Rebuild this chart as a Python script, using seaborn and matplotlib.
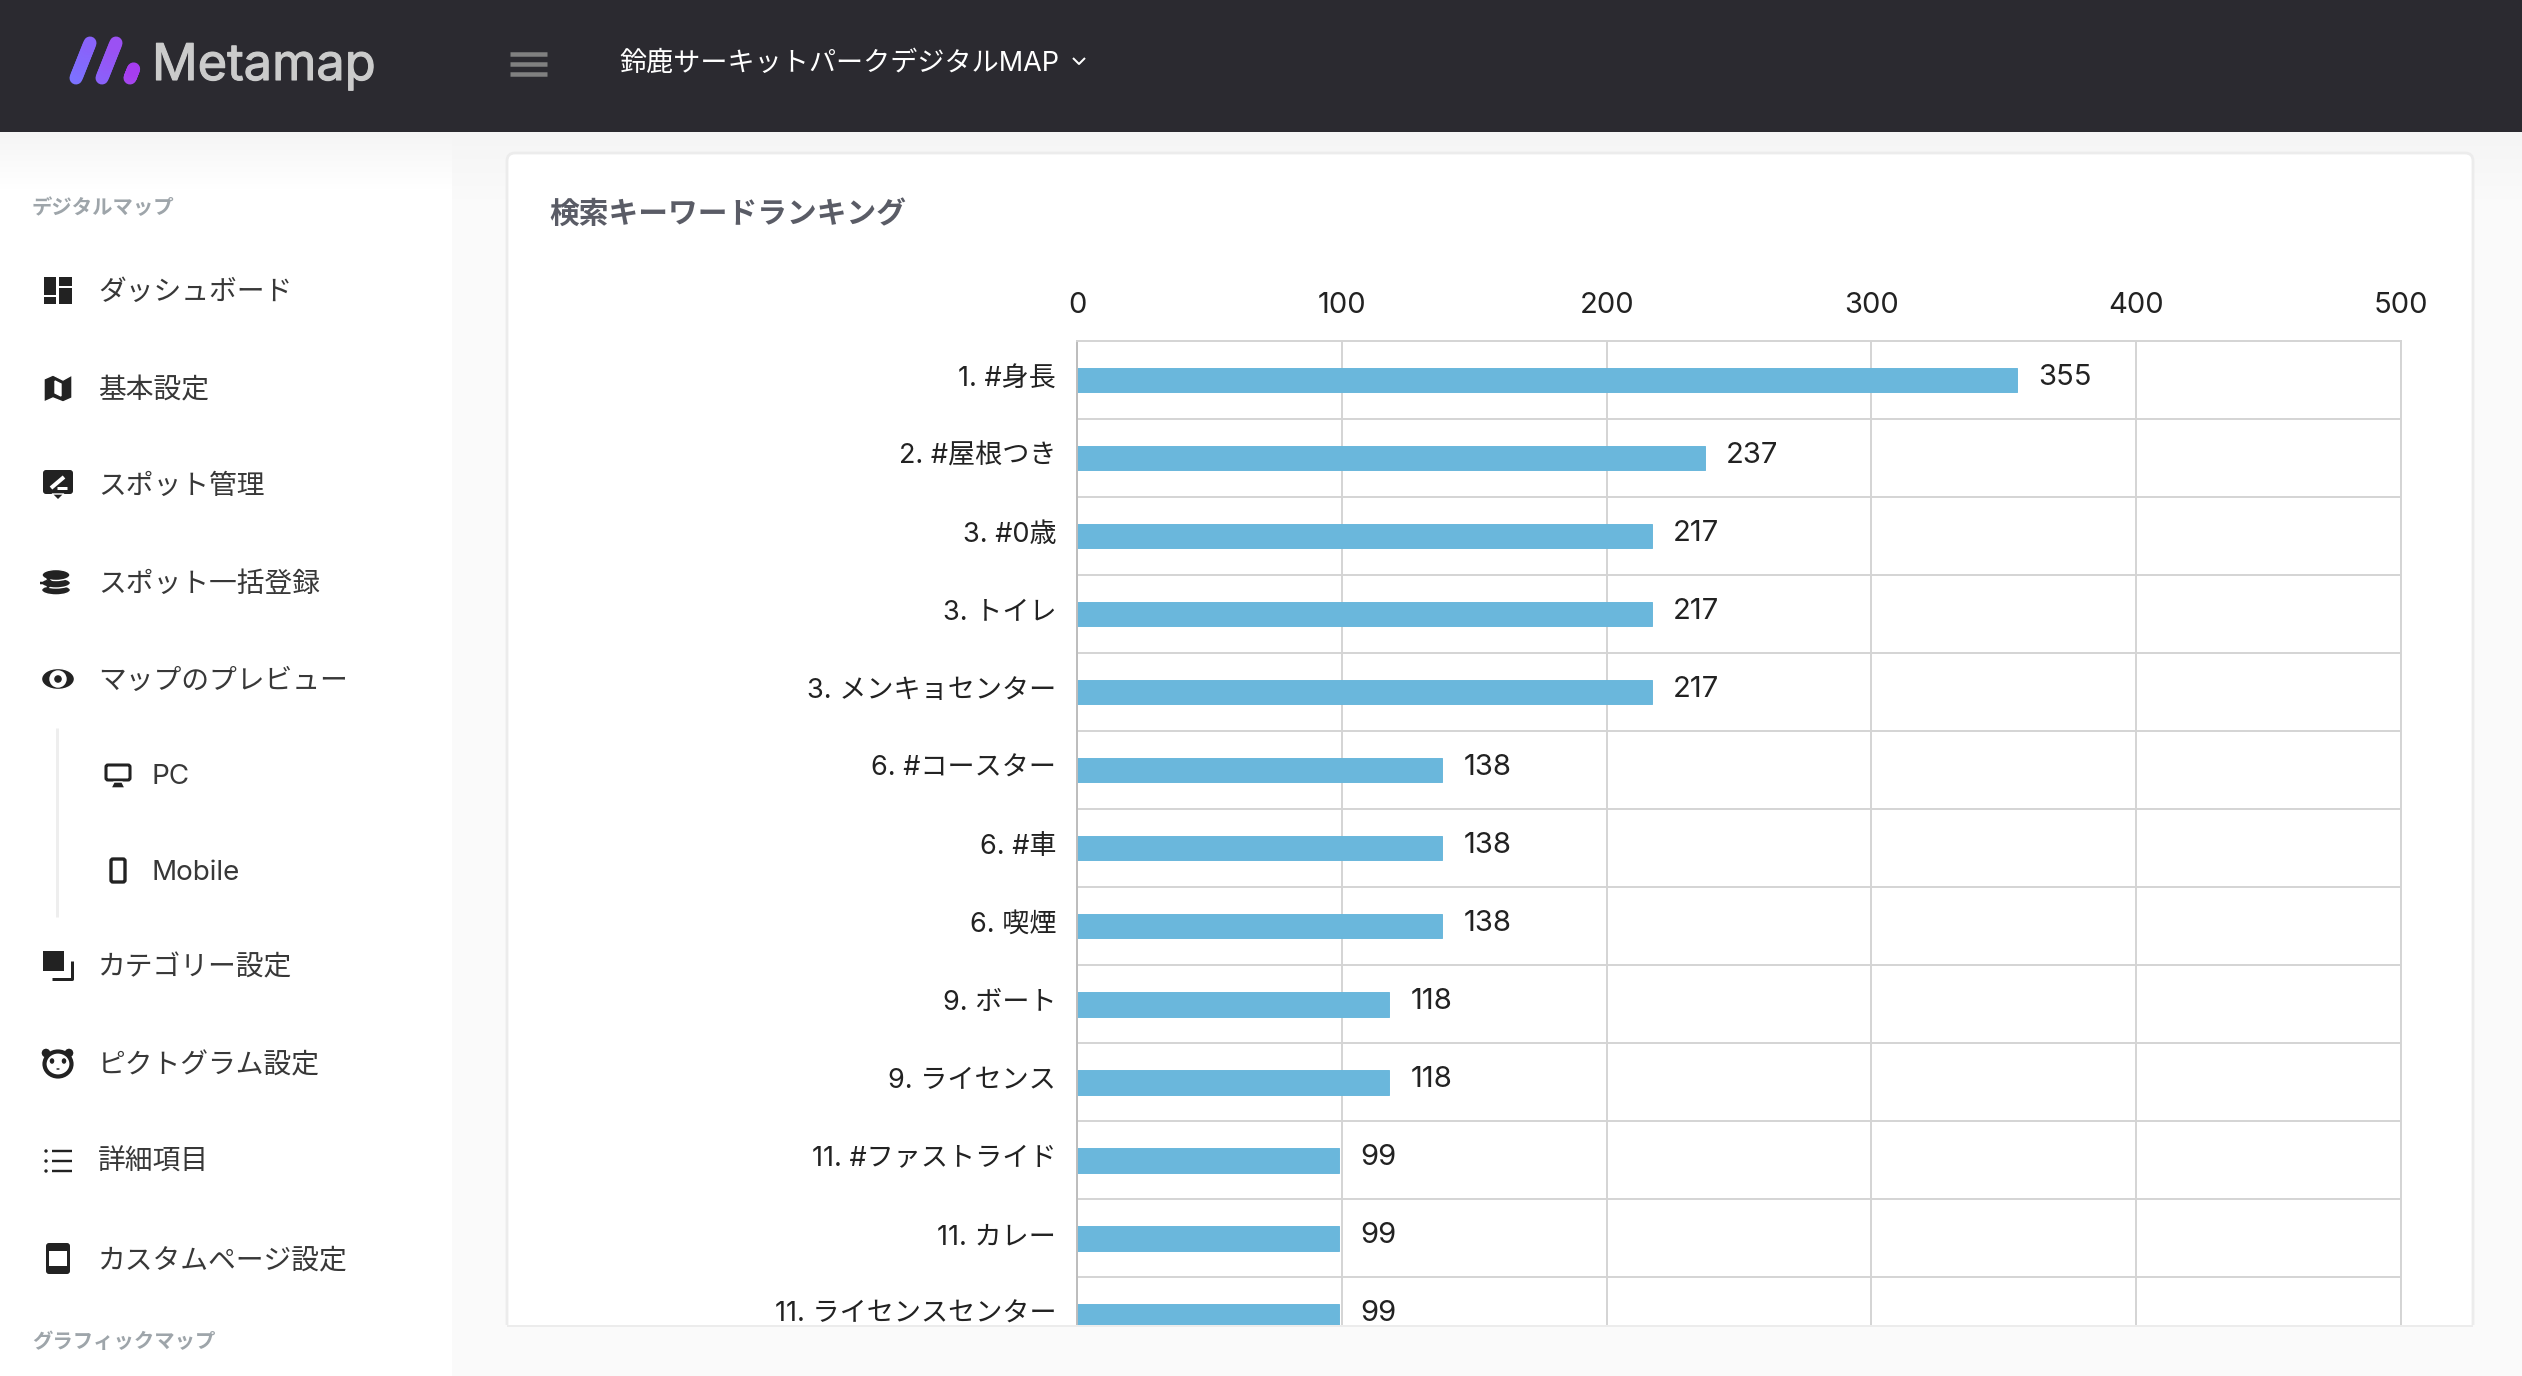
import numpy as np
import pandas as pd
import matplotlib
matplotlib.use("Agg")
import matplotlib.pyplot as plt
import matplotlib.patheffects as pe
from matplotlib.colors import LinearSegmentedColormap, to_rgb
from matplotlib.patches import Rectangle, FancyBboxPatch, Ellipse, Circle, Polygon
from matplotlib.transforms import ScaledTranslation
import seaborn as sns

# chart data
keywords = ["1. #身長", "2. #屋根つき", "3. #0歳", "3. トイレ", "3. メンキョセンター",
            "6. #コースター", "6. #車", "6. 喫煙", "9. ボート", "9. ライセンス",
            "11. #ファストライド", "11. カレー", "11. ライセンスセンター"]
counts = [355, 237, 217, 217, 217, 138, 138, 138, 118, 118, 99, 99, 99]
x_ticks = [0, 100, 200, 300, 400, 500]

# page text
menu_items = ["ダッシュボード", "基本設定", "スポット管理", "スポット一括登録", "マップのプレビュー",
              "カテゴリー設定", "ピクトグラム設定", "詳細項目", "カスタムページ設定"]
menu_rows = [293, 391, 487, 585, 682, 968, 1066, 1163, 1261]
sub_items = ["PC", "Mobile"]
sub_rows = [777, 873]

sns.set_theme(style="white")
plt.rcParams['font.family'] = ['Inter', 'Noto Sans CJK JP', 'DejaVu Sans']

W, H = 2522, 1376
fig = plt.figure(figsize=(W / 100, H / 100), dpi=100, facecolor="#fafafa")

# background layer in pixel coordinates
bg = fig.add_axes([0, 0, 1, 1], zorder=0)
bg.set_xlim(0, W)
bg.set_ylim(H, 0)
bg.axis("off")


def rect(x0, y0, x1, y1, color, ax=bg, z=1):
    ax.add_patch(Rectangle((x0, y0), x1 - x0, y1 - y0, fc=color, ec="none", zorder=z))


def rrect(x0, y0, x1, y1, r, fc, ec="none", lw=0, z=3):
    bg.add_patch(FancyBboxPatch((x0 + r, y0 + r), x1 - x0 - 2 * r, y1 - y0 - 2 * r,
                                boxstyle=f"round,pad={r}", fc=fc, ec=ec, lw=lw, zorder=z))


def stroke(xs, ys, color, px, z=3, cap="butt"):
    bg.plot(xs, ys, color=color, lw=px * 0.72, solid_capstyle=cap, zorder=z)


# page, sidebar, header
rect(0, 0, W, H, "#fafafa")
rect(0, 132, 452, H, "#ffffff")
shade = np.linspace(0, 1, 40).reshape(-1, 1)
bg.imshow(shade, extent=(0, 452, 190, 132), cmap=LinearSegmentedColormap.from_list("s", ["#f5f5f5", "#ffffff"]),
          aspect="auto", zorder=1.5)
bg.imshow(shade, extent=(452, W, 200, 132), cmap=LinearSegmentedColormap.from_list("s2", ["#f5f5f5", "#fafafa"]),
          aspect="auto", zorder=1.5)
bg.set_xlim(0, W)
bg.set_ylim(H, 0)
rect(0, 0, W, 132, "#2b2a30", z=2)

# card
rrect(507, 153, 2473, 1400, 8, "#ffffff", ec="#ececec", lw=2, z=2)

# logo
for x_base, length, c0, c1 in [(76, 1.0, "#7c72ff", "#8a62fa"), (102, 1.0, "#8a62fa", "#9c50f2"), (130, 0.26, "#a548ee", "#a63cf0")]:
    t = np.linspace(0, 1, 14)
    c0 = np.array(to_rgb(c0))
    c1 = np.array(to_rgb(c1))
    for a, b in zip(t[:-1], t[1:]):
        xa, ya = x_base + 14 * a * length, 78 - 35 * a * length
        xb, yb = x_base + 14 * b * length, 78 - 35 * b * length
        stroke([xa, xb], [ya, yb], c0 + (c1 - c0) * a, 13, cap="round", z=3)
logo = bg.text(152, 80, "Metamap", color="#cbcbcb", fontsize=36.4, va="baseline", zorder=4)
logo.set_path_effects([pe.withStroke(linewidth=0.8, foreground="#cbcbcb")])

# hamburger and site selector
for y in (54, 64, 74):
    stroke([510, 547], [y, y], "#808080", 4.5)
bg.text(619, 64, "鈴鹿サーキットパークデジタルMAP", color="#ffffff", fontsize=19.5, va="center", zorder=4)
stroke([1073, 1079, 1085], [58, 64, 58], "#ffffff", 2)

# sidebar text
bg.text(32, 208, "デジタルマップ", color="#9ea5aa", fontsize=14.7, fontweight="bold", va="center", zorder=4)
bg.text(32, 1342, "グラフィックマップ", color="#9ea5aa", fontsize=14.7, fontweight="bold", va="center", zorder=4)
for name, y in zip(menu_items, menu_rows):
    bg.text(98, y, name, color="#383838", fontsize=20, va="center", zorder=4)
for name, y in zip(sub_items, sub_rows):
    bg.text(152, y, name, color="#383838", fontsize=20, va="center", zorder=4)
stroke([57, 57], [728, 917], "#eeeeee", 3)

dark = "#222222"
# dashboard
rect(44, 277, 56, 295, dark, z=3)
rect(44, 297, 56, 304, dark, z=3)
rect(59, 277, 72, 286, dark, z=3)
rect(59, 288, 72, 304, dark, z=3)
# map
bg.add_patch(Polygon([(44, 379), (53, 375), (63, 380), (72, 375), (72, 398), (63, 402), (53, 398), (44, 402)], fc=dark, zorder=3))
bg.add_patch(Polygon([(55, 381), (61, 384), (61, 396), (55, 393)], fc="#ffffff", zorder=4))
# spot
rrect(43, 470, 73, 494, 3, dark)
bg.add_patch(Polygon([(52, 494), (64, 494), (58, 500)], fc=dark, zorder=3))
stroke([51, 64], [488, 477], "#ffffff", 4, z=4)
stroke([57, 67], [488, 488], "#ffffff", 3, z=4)
# bulk import
for y in (590, 583):
    bg.add_patch(Ellipse((56, y), 29, 10, fc=dark, ec="#ffffff", lw=1, zorder=3))
bg.add_patch(Ellipse((56, 575), 28, 11, fc=dark, ec="#ffffff", lw=1, zorder=3))
stroke([40, 52], [583, 583], dark, 2.5, z=4)
stroke([47, 52, 47], [578, 583, 588], dark, 2.5, z=4)
# eye
bg.add_patch(Ellipse((58, 679), 33, 21, fc=dark, zorder=3))
bg.add_patch(Circle((58, 679), 8, fc="#ffffff", zorder=4))
bg.add_patch(Circle((58, 679), 4.5, fc=dark, zorder=5))
# pc
rrect(106, 765, 130, 780, 2, "#ffffff", ec=dark, lw=2.2)
bg.add_patch(Polygon([(114, 782), (122, 782), (125, 788), (111, 788)], fc=dark, zorder=3))
# mobile
rrect(111, 859, 125, 882, 2, "#ffffff", ec=dark, lw=2.4)
# category
rect(43, 951, 64, 971, dark, z=3)
stroke([52, 72, 72], [979, 979, 961], dark, 3)
# panda
bg.add_patch(Circle((46, 1053), 5, fc=dark, zorder=3))
bg.add_patch(Circle((69, 1053), 5, fc=dark, zorder=3))
bg.add_patch(Ellipse((58, 1064), 27, 25, fc="#ffffff", ec=dark, lw=3, zorder=4))
bg.add_patch(Ellipse((52, 1061), 6, 7, fc=dark, zorder=5))
bg.add_patch(Ellipse((64, 1061), 6, 7, fc=dark, zorder=5))
bg.add_patch(Ellipse((58, 1069), 5, 3, fc=dark, zorder=5))
# list
for y in (1151, 1161, 1171):
    bg.add_patch(Circle((46, y), 2.4, fc=dark, zorder=3))
    stroke([52, 72], [y, y], dark, 2.4)
# custom page
rrect(46, 1243, 70, 1274, 3, dark)
rect(49, 1251, 67, 1266, "#ffffff", z=4)

# card title
bg.text(549, 214, "検索キーワードランキング", color="#5a5c66", fontsize=21.4, fontweight="bold", va="center", zorder=4)

# chart
df = pd.DataFrame({"keyword": keywords, "count": counts})
ax = fig.add_axes([1077 / W, 1 - 1325 / H, 1324 / W, 984 / H], zorder=2)
ax.patch.set_alpha(0)
sns.barplot(data=df, x="count", y="keyword", orient="h", color="#6ab7dc", saturation=1, width=0.32,
            edgecolor="#6ab7dc", linewidth=0.7, ax=ax)
ax.set_xlim(0, 500)
ax.set_ylim(12.115, -0.5)
ax.set_xlabel("")
ax.set_ylabel("")
ax.xaxis.tick_top()
ax.set_xticks(x_ticks)
ax.set_yticks(np.arange(0.5, 12.5), minor=True)
ax.grid(True, axis="x", color="#d4d4d4", lw=1.4, zorder=0)
ax.grid(True, axis="y", which="minor", color="#d4d4d4", lw=1.4, zorder=0)
ax.set_axisbelow(True)
ax.tick_params(axis="x", length=0, pad=16, labelsize=21, labelcolor="#222222")
ax.tick_params(axis="y", which="both", length=0, pad=15, labelsize=19.5, labelcolor="#222222")
for side in ["top", "right"]:
    ax.spines[side].set_color("#d4d4d4")
    ax.spines[side].set_linewidth(1.4)
ax.spines["left"].set_color("#bdbdbd")
ax.spines["left"].set_linewidth(1.4)
ax.spines["bottom"].set_visible(False)

up = ScaledTranslation(0, 4 / 100, fig.dpi_scale_trans)
for lab in ax.get_yticklabels():
    lab.set_transform(lab.get_transform() + up)
for i, v in enumerate(counts):
    ax.annotate(str(v), (v, i), xytext=(15, 1.5), textcoords="offset points", va="center", ha="left",
                fontsize=21, color="#222222", annotation_clip=False, clip_on=False)

# strip below the card hides whatever runs past its bottom edge
cover = fig.add_axes([452 / W, 0, (W - 452) / W, (H - 1325) / H], zorder=3)
cover.set_xlim(452, W)
cover.set_ylim(H, 1325)
cover.set_facecolor("#fafafa")
cover.set_xticks([])
cover.set_yticks([])
for s in cover.spines.values():
    s.set_visible(False)
rect(507, 1325, 2473, 1327, "#ececec", ax=cover, z=3)

fig.savefig("out.png", dpi=100)
